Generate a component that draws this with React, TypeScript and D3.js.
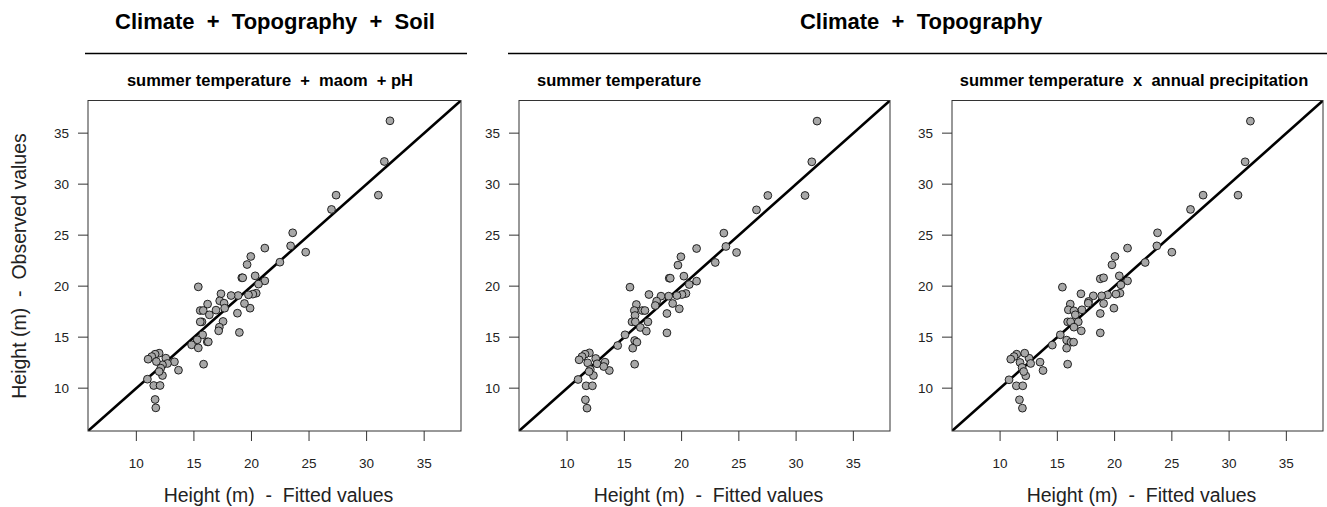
import React from "react";
import * as d3 from "d3";

const fitted1 = [32.03,31.54,27.35,31.02,26.95,23.58,23.40,24.71,21.16,19.94,22.47,19.62,19.16,19.24,20.32,21.16,20.61,20.41,20.12,19.74,19.88,18.84,18.23,17.35,17.24,17.62,17.67,16.92,19.39,18.78,15.38,16.19,15.55,15.81,16.34,15.70,15.55,17.53,17.21,17.15,18.95,15.76,15.29,16.16,16.25,14.80,15.38,15.84,13.66,13.31,12.56,12.70,12.27,11.98,11.63,11.34,11.02,11.74,12.12,12.27,11.98,10.96,11.51,12.06,11.63,11.69];
const observed1 = [36.21,32.22,28.92,28.92,27.52,25.23,23.95,23.33,23.73,22.91,22.35,22.12,20.82,20.82,21.01,20.52,20.20,19.31,19.22,19.15,17.84,19.08,19.08,19.25,18.56,18.33,17.84,17.65,18.30,17.35,19.93,18.24,17.61,17.61,17.19,16.50,16.50,16.54,15.98,15.62,15.46,15.23,14.74,14.54,14.54,14.25,13.95,12.35,11.76,12.58,12.94,12.42,12.29,13.43,13.33,13.10,12.84,12.61,11.96,11.24,11.63,10.88,10.26,10.26,8.89,8.07];

const fitted2 = [31.83,31.37,27.53,30.78,26.54,23.69,23.87,24.80,21.31,19.94,22.94,19.68,18.92,19.01,20.20,21.31,20.67,20.38,20.03,19.59,19.80,18.87,18.20,17.15,17.82,17.70,19.22,18.72,15.49,16.05,15.87,16.57,16.80,15.93,15.67,15.96,17.06,16.40,16.92,18.72,15.06,15.90,16.10,14.42,15.73,15.90,13.69,13.31,12.50,12.62,13.20,11.95,11.57,11.31,11.05,11.80,12.03,12.30,11.92,10.96,11.66,12.21,11.60,11.74];
const observed2 = [36.18,32.19,28.89,28.89,27.48,25.20,23.89,23.30,23.69,22.88,22.32,22.06,20.78,20.78,20.98,20.49,20.16,19.28,19.18,19.08,17.78,19.02,19.02,19.18,18.53,18.10,18.30,17.32,19.90,18.20,17.61,17.61,17.61,17.12,16.50,16.50,16.50,15.95,15.59,15.42,15.23,14.67,14.51,14.18,13.92,12.35,11.73,12.55,12.91,12.39,12.12,13.46,13.33,13.10,12.78,12.48,11.83,11.24,11.63,10.85,10.23,10.23,8.86,8.04];

const fitted3 = [31.86,31.40,27.73,30.78,26.63,23.75,23.69,25.00,21.13,20.03,22.67,19.77,18.75,19.04,20.41,21.13,20.55,20.47,20.12,19.39,19.94,18.87,18.14,17.06,17.73,17.70,17.15,19.04,18.75,15.44,16.13,15.96,16.45,16.57,15.90,16.16,16.83,16.45,17.09,18.75,15.26,15.81,16.19,16.42,14.56,15.81,15.90,13.75,13.49,12.53,12.67,12.15,11.45,11.22,10.93,11.74,11.92,12.24,12.06,10.78,11.42,11.98,11.69,11.95];
const observed3 = [36.18,32.19,28.92,28.92,27.52,25.23,23.95,23.33,23.73,22.91,22.32,22.09,20.72,20.82,21.01,20.52,20.13,19.31,19.22,19.15,17.84,19.05,19.05,19.25,18.50,18.33,17.68,18.30,17.32,19.90,18.24,17.68,17.58,17.19,16.50,16.50,16.50,15.98,15.62,15.42,15.23,14.71,14.51,14.51,14.22,13.92,12.35,11.73,12.55,12.94,12.42,13.43,13.33,13.10,12.84,12.52,12.03,11.21,11.63,10.82,10.23,10.23,8.86,8.04];

const tickValues = [10, 15, 20, 25, 30, 35];
const domain = [5.8, 38.2];
const groupTitles = ["Climate  +  Topography  +  Soil", "Climate  +  Topography"];
const panelTitles = ["summer temperature  +  maom  + pH", "summer temperature", "summer temperature  x  annual precipitation"];
const xLabel = "Height (m)  -  Fitted values";
const yLabel = "Height (m)  -  Observed values";

const FONT = "'Liberation Sans', Arial, sans-serif";

const panels = [
  { left: 88, right: 461, title: panelTitles[0], tx: 270, anchor: "middle", xs: fitted1, ys: observed1 },
  { left: 519, right: 890, title: panelTitles[1], tx: 537, anchor: "start", xs: fitted2, ys: observed2 },
  { left: 952, right: 1323, title: panelTitles[2], tx: 1134, anchor: "middle", xs: fitted3, ys: observed3 },
];

const TOP = 100.5;
const BOTTOM = 431;

function Panel({ p, idx }: any) {
  const x = d3.scaleLinear().domain(domain).range([p.left, p.right]);
  const y = d3.scaleLinear().domain(domain).range([BOTTOM, TOP]);
  const clipId = `clip${idx}`;
  return (
    <g>
      <defs>
        <clipPath id={clipId}>
          <rect x={p.left} y={TOP} width={p.right - p.left} height={BOTTOM - TOP} />
        </clipPath>
      </defs>
      <text x={p.tx} y={86} fontSize={16.5} fontWeight="bold" textAnchor={p.anchor} fontFamily={FONT} style={{ whiteSpace: "pre" }}>{p.title}</text>
      <line x1={x(domain[0])} y1={y(domain[0])} x2={x(domain[1])} y2={y(domain[1])} stroke="#000" strokeWidth={2.6} clipPath={`url(#${clipId})`} />
      {p.xs.map((v: number, i: number) => (
        <circle key={i} cx={x(v)} cy={y(p.ys[i])} r={3.9} fill="#a8a8a8" stroke="#111" strokeWidth={0.9} />
      ))}
      <rect x={p.left} y={TOP} width={p.right - p.left} height={BOTTOM - TOP} fill="none" stroke="#333" strokeWidth={1} />
      {tickValues.map((t) => (
        <g key={"x" + t}>
          <line x1={x(t)} x2={x(t)} y1={BOTTOM} y2={BOTTOM + 10} stroke="#333" />
          <text x={x(t)} y={468} fontSize={13.5} textAnchor="middle" fill="#222" fontFamily={FONT}>{t}</text>
        </g>
      ))}
      {tickValues.map((t) => (
        <g key={"y" + t}>
          <line x1={p.left - 10} x2={p.left} y1={y(t)} y2={y(t)} stroke="#333" />
          <text x={p.left - 19} y={y(t) + 4.5} fontSize={13.5} textAnchor="end" fill="#222" fontFamily={FONT}>{t}</text>
        </g>
      ))}
      <text x={(p.left + p.right) / 2 + 4} y={502} fontSize={19.5} textAnchor="middle" fill="#222" fontFamily={FONT} style={{ whiteSpace: "pre" }}>{xLabel}</text>
    </g>
  );
}

export default function App() {
  return (
    <svg width={1327} height={507} style={{ position: "absolute", left: 0, top: 0, background: "#fff" }}>
      <rect width={1327} height={507} fill="#fff" />
      <text x={275} y={29} fontSize={22} fontWeight="bold" textAnchor="middle" fontFamily={FONT} style={{ whiteSpace: "pre" }}>{groupTitles[0]}</text>
      <line x1={85} x2={467} y1={53.5} y2={53.5} stroke="#000" strokeWidth={1.5} />
      <text x={921} y={29} fontSize={22} fontWeight="bold" textAnchor="middle" fontFamily={FONT} style={{ whiteSpace: "pre" }}>{groupTitles[1]}</text>
      <line x1={508} x2={1327} y1={53.5} y2={53.5} stroke="#000" strokeWidth={1.5} />
      {panels.map((p, i) => <Panel key={i} p={p} idx={i} />)}
      <text transform="translate(26,266) rotate(-90)" fontSize={19.5} textAnchor="middle" fill="#222" fontFamily={FONT} style={{ whiteSpace: "pre" }}>{yLabel}</text>
    </svg>
  );
}
